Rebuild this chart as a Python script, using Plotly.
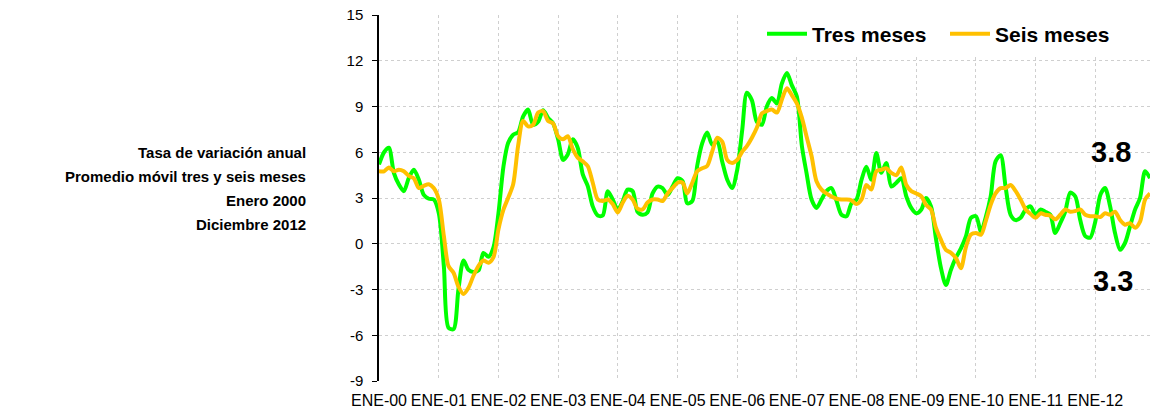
import pandas as pd
import plotly.graph_objects as go

# ---- data ----
months = pd.date_range("2000-01-01", periods=156, freq="MS")

tres_meses = [
    5.2, 6.0, 6.3, 4.65, 3.9, 3.45, 4.3, 4.85, 4.2, 3.2, 2.95, 2.9,
    2.0, -1.5, -5.5, -5.6, -3.0, -1.1, -1.7, -1.85, -1.75, -0.6, -0.85, -0.25,
    2.0, 5.1, 6.6, 7.15, 7.3, 8.35, 8.8, 7.8, 8.0, 8.75, 8.25, 7.9,
    6.85, 5.5, 5.85, 6.85, 6.3, 4.55, 3.8, 2.45, 1.85, 1.85, 3.45, 2.9,
    2.25, 2.8, 3.55, 3.45, 2.1, 1.9, 2.05, 3.3, 3.75, 3.65, 3.2, 3.75,
    4.3, 4.1, 2.65, 2.8, 5.1, 6.6, 7.3, 6.5, 6.7, 5.4, 4.2, 3.65,
    4.85, 7.5, 9.9, 9.4, 8.0, 7.8, 9.0, 9.55, 9.2, 10.5, 11.2, 10.4,
    9.65, 6.4, 4.65, 2.9, 2.35, 2.9, 3.45, 3.65, 2.8, 1.9, 1.8, 2.65,
    2.9, 4.2, 5.05, 4.2, 5.95, 4.65, 5.3, 3.75, 4.0, 4.3, 3.1, 2.35,
    2.0, 2.25, 3.0, 2.45, 0.35, -1.6, -2.7, -1.7, -0.9, -0.3, 0.5, 1.7,
    1.8, 0.8, 1.7, 3.1, 5.4, 5.8, 3.75, 1.9, 1.55, 1.7, 2.25, 2.45,
    1.9, 2.25, 2.1, 1.9, 0.7, 1.35, 2.1, 3.35, 3.1, 1.55, 0.5, 0.4,
    1.45, 3.2, 3.65, 2.45, 0.7, -0.4, 0.05, 1.15, 2.25, 3.0, 4.75, 4.3,
]

seis_meses = [
    4.75, 4.75, 5.0, 4.75, 4.85, 4.75, 4.45, 4.3, 3.65, 3.8, 3.9, 3.65,
    2.9, 0.5, -1.45, -1.9, -2.8, -3.3, -2.9, -2.1, -1.45, -1.1, -1.25, -0.9,
    0.95, 2.25, 3.0, 3.9, 6.4, 8.05, 7.7, 7.8, 8.6, 8.7, 8.05, 7.9,
    7.05, 6.85, 7.05, 6.2, 5.65, 5.4, 5.1, 4.0, 2.9, 2.8, 2.9, 2.6,
    2.05, 2.7, 3.15, 2.9, 2.3, 2.25, 2.7, 2.9, 2.9, 2.8, 3.3, 3.65,
    4.0, 4.0, 3.3, 4.0, 4.75, 4.95, 5.1, 6.05, 6.95, 6.7, 5.5, 5.3,
    5.5, 6.05, 6.4, 6.95, 7.6, 8.55, 8.7, 8.8, 8.6, 9.45, 10.2, 9.75,
    9.2, 8.25, 7.05, 5.75, 4.1, 3.55, 3.3, 3.1, 2.95, 2.9, 2.9, 2.85,
    2.6, 2.9, 3.85, 3.55, 4.75, 4.85, 4.95, 4.65, 4.5, 5.0, 3.85, 3.45,
    3.3, 3.1, 2.55, 2.25, 1.05, 0.25, -0.4, -0.6, -0.95, -1.6, -0.2, 0.6,
    0.7, 0.6, 1.45, 2.55, 3.3, 3.65, 3.65, 3.85, 3.45, 2.9, 2.25, 1.95,
    1.7, 2.0, 1.9, 1.85, 1.6, 1.9, 2.25, 2.1, 2.15, 2.25, 1.9, 1.8,
    1.8, 1.75, 2.0, 1.9, 2.1, 1.55, 1.25, 1.35, 1.05, 1.45, 2.9, 3.3,
]

series_names = ["Tres meses", "Seis meses"]
x_tick_labels = ["ENE-00", "ENE-01", "ENE-02", "ENE-03", "ENE-04", "ENE-05", "ENE-06",
                 "ENE-07", "ENE-08", "ENE-09", "ENE-10", "ENE-11", "ENE-12"]
x_tick_dates = [months[i * 12] for i in range(len(x_tick_labels))]
y_ticks = [-9, -6, -3, 0, 3, 6, 9, 12, 15]
y_tick_labels = ["-9", "-6", "-3", "0", "3", "6", "9", "12", "15"]
title_lines = ["Tasa de variación anual", "Promedio móvil tres y seis meses",
               "Enero 2000", "Diciembre 2012"]
end_labels = ["3.8", "3.3"]

# ---- figure ----
FONT = "Liberation Sans, Arial, sans-serif"
GREEN = "#00FF00"
ORANGE = "#FFC000"
L, T, PW, PH = 379, 15, 771, 366

fig = go.Figure()
fig.add_trace(go.Scatter(x=months, y=tres_meses, name=series_names[0], mode="lines",
                         line=dict(color=GREEN, width=4, shape="spline", smoothing=0.8)))
fig.add_trace(go.Scatter(x=months, y=seis_meses, name=series_names[1], mode="lines",
                         line=dict(color=ORANGE, width=4, shape="spline", smoothing=0.8)))

fig.update_layout(
    width=1150, height=411,
    margin=dict(l=L, r=1150 - L - PW, t=T, b=411 - T - PH, autoexpand=False),
    paper_bgcolor="white", plot_bgcolor="white",
    font=dict(family=FONT, color="black"),
    showlegend=True,
    legend=dict(orientation="h", x=(762 - L) / PW, y=(T + PH - 34) / PH,
                xanchor="left", yanchor="middle",
                bgcolor="white", font=dict(size=21, family=FONT, color="black", weight="bold"),
                itemwidth=40, entrywidth=128, entrywidthmode="pixels",
                tracegroupgap=0, borderwidth=0),
)

fig.update_xaxes(
    range=[months[0], months[-1]], automargin=False,
    tickmode="array", tickvals=x_tick_dates, ticktext=x_tick_labels,
    tickfont=dict(size=16, family=FONT, color="black"),
    showgrid=True, gridcolor="#CFCFCF", griddash="dot", gridwidth=1,
    showline=False, zeroline=False, ticks="", ticklabelstandoff=8,
)
fig.update_yaxes(
    range=[-9, 15], tickmode="array", tickvals=y_ticks, ticktext=y_tick_labels,
    automargin=False,
    tickfont=dict(size=15, family=FONT, color="black"),
    showgrid=True, gridcolor="#CFCFCF", griddash="dot", gridwidth=1,
    showline=True, linecolor="black", linewidth=1.5,
    ticks="outside", ticklen=5, tickcolor="black", tickwidth=1,
    zeroline=False, ticklabelstandoff=6,
)

# left-side title block, right-aligned
line_y_px = [152, 176, 200, 224]
for txt, ypx in zip(title_lines, line_y_px):
    fig.add_annotation(text=txt, xref="paper", yref="paper",
                       x=(308 - L) / PW, y=(T + PH - ypx) / PH,
                       xanchor="right", yanchor="middle", showarrow=False,
                       font=dict(size=15, family=FONT, color="black", weight="bold"))

# end value labels
for txt, (xpx, ypx) in zip(end_labels, [(1111, 152), (1113, 281)]):
    fig.add_annotation(text=txt, xref="paper", yref="paper",
                       x=(xpx - L) / PW, y=(T + PH - ypx) / PH,
                       xanchor="center", yanchor="middle", showarrow=False,
                       font=dict(size=29, family=FONT, color="black", weight="bold"))

fig.write_html("out.html", config={"displayModeBar": False},
               post_script="document.body.style.margin='0';document.body.style.overflow='hidden';")
